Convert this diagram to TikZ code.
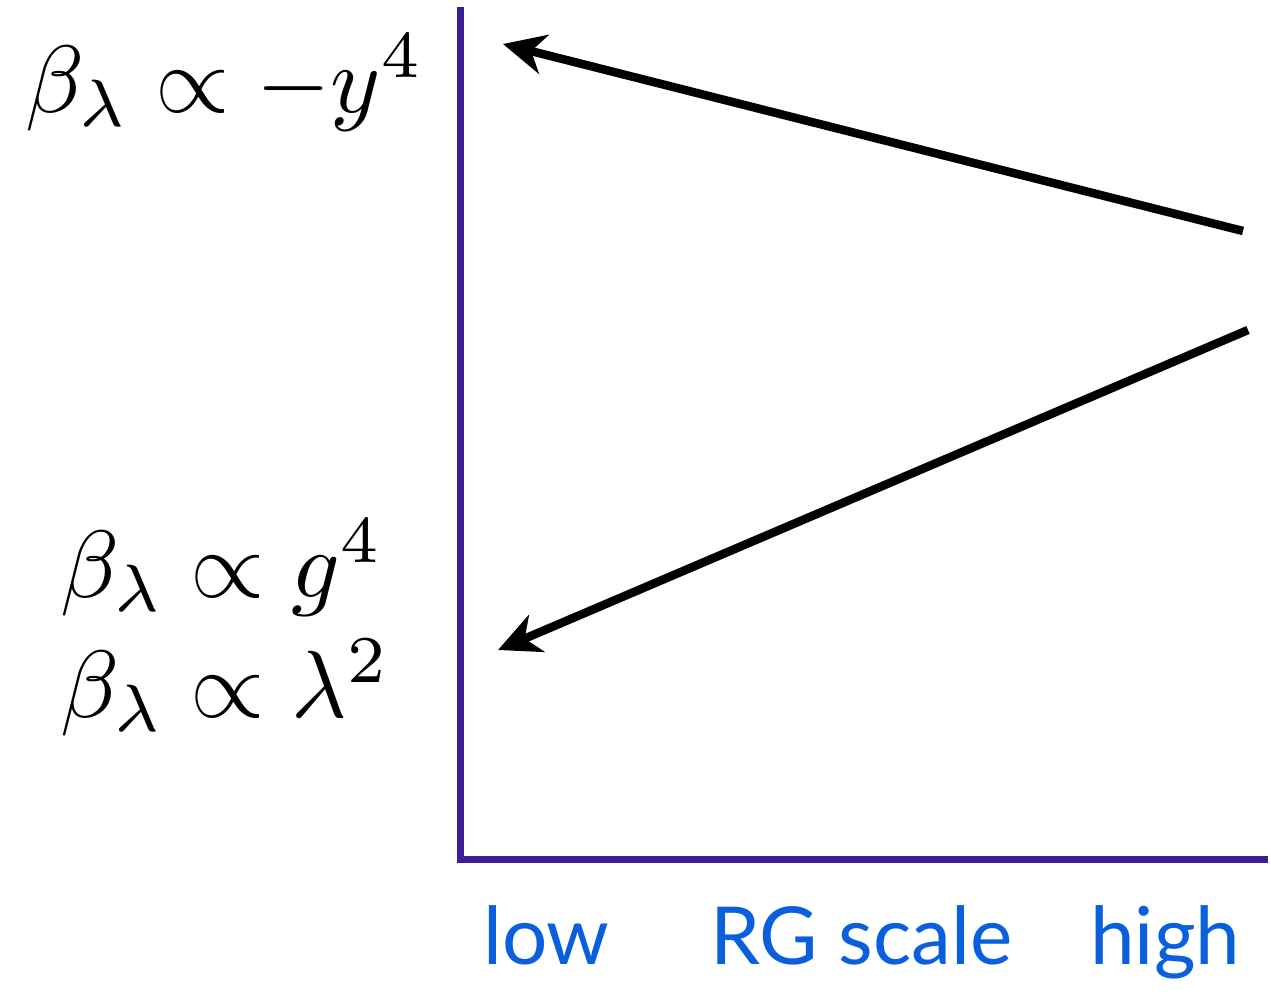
\documentclass[tikz,border=0pt]{standalone}
\usepackage{fontspec}
\usepackage{graphicx}
\newfontfamily\labelfont{Lato}
\usetikzlibrary{arrows.meta}
\definecolor{axiscol}{RGB}{58,30,150}
\definecolor{labelcol}{RGB}{10,95,220}
\newcommand{\bigmath}[1]{\scalebox{9.55}{$#1$}}
\begin{document}
\begin{tikzpicture}[x=1pt,y=-1pt,
  axis/.style={line width=7pt,draw=axiscol},
  flow/.style={line width=8.5pt,-{Stealth[length=42pt,width=40pt,inset=13pt]}},
  formula/.style={inner sep=0pt,anchor=base west,font=\fontsize{10}{12}\selectfont},
  scalelabel/.style={inner sep=0pt,anchor=base west,text=labelcol,font=\labelfont\fontsize{80}{90}\selectfont}]
\useasboundingbox (0,0) rectangle (1271,993);
\coordinate (top) at (460,10);
\coordinate (origin) at (460,859);
\coordinate (right) at (1264,859);
\draw[axis,line cap=rect] (top) -- (origin) -- (right);
\coordinate (s1) at (1243,231);
\coordinate (e1) at (503,44);
\coordinate (s2) at (1248,330);
\coordinate (e2) at (498,650);
\draw[flow] (s1) -- (e1);
\draw[flow] (s2) -- (e2);
\node[formula] (f1) at (25,112) {\bigmath{\beta_\lambda \propto -y^4}};
\node[formula] (f2) at (60,597) {\bigmath{\beta_\lambda \propto g^4}};
\node[formula] (f3) at (60,717) {\bigmath{\beta_\lambda \propto \lambda^2}};
\node[scalelabel] (low) at (483,964) {low};
\node[scalelabel] (rg) at (710,964) {RG scale};
\node[scalelabel] (high) at (1090,964) {high};
\end{tikzpicture}
\end{document}
